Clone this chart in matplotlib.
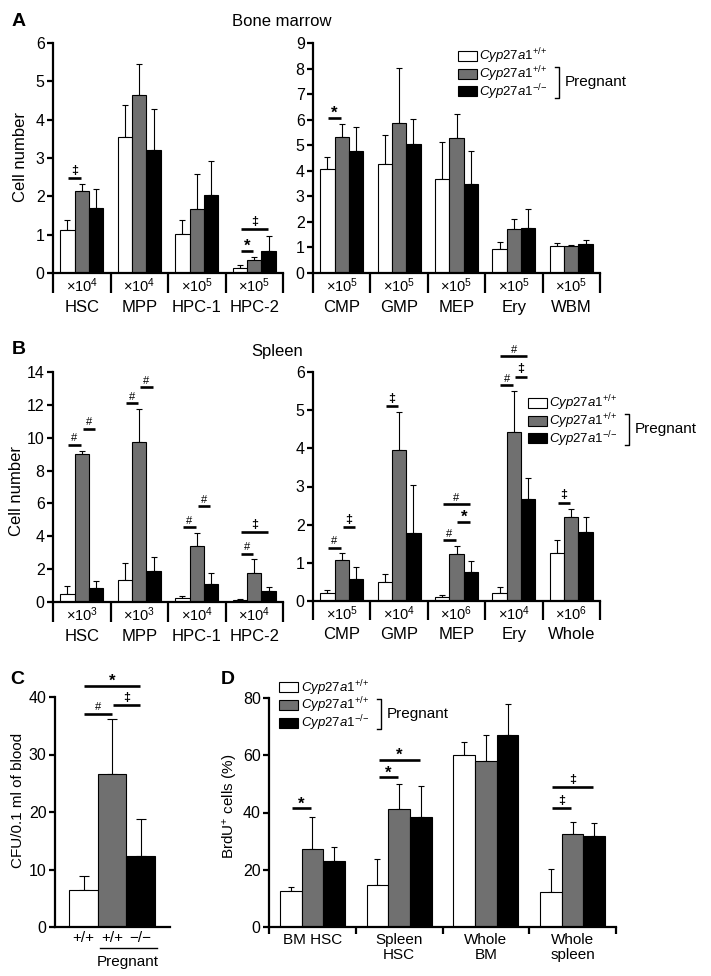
import numpy as np
import matplotlib
matplotlib.use('Agg')
import matplotlib.pyplot as plt
from matplotlib.patches import Rectangle
from matplotlib.lines import Line2D

plt.rcParams['font.family'] = ['Liberation Sans', 'DejaVu Sans']
plt.rcParams['mathtext.fontset'] = 'custom'
plt.rcParams['mathtext.rm'] = 'Liberation Sans'
plt.rcParams['mathtext.it'] = 'Liberation Sans:italic'
plt.rcParams['mathtext.bf'] = 'Liberation Sans:bold'

# ---- data (control, pregnant wt, pregnant ko) ----
# A: bone marrow
a1_names = ['HSC', 'MPP', 'HPC-1', 'HPC-2']
a1_scale = ['4', '4', '5', '5']
a1_ctrl = [1.11, 3.55, 1.03, 0.14]
a1_ctrl_err = [0.26, 0.84, 0.34, 0.06]
a1_wt = [2.14, 4.65, 1.66, 0.35]
a1_wt_err = [0.19, 0.79, 0.91, 0.08]
a1_ko = [1.70, 3.20, 2.03, 0.57]
a1_ko_err = [0.50, 1.09, 0.89, 0.39]
a1_sig = [(0, 0, 1, 2.48, '‡'), (3, 0, 1, 0.58, '*'), (3, 0, 2, 1.14, '‡')]

a2_names = ['CMP', 'GMP', 'MEP', 'Ery', 'WBM']
a2_scale = ['5', '5', '5', '5', '5']
a2_ctrl = [4.06, 4.27, 3.68, 0.95, 1.06]
a2_ctrl_err = [0.48, 1.14, 1.45, 0.26, 0.10]
a2_wt = [5.32, 5.88, 5.30, 1.72, 1.06]
a2_wt_err = [0.52, 2.13, 0.92, 0.41, 0.05]
a2_ko = [4.76, 5.03, 3.48, 1.76, 1.12]
a2_ko_err = [0.95, 1.01, 1.29, 0.74, 0.17]
a2_sig = [(0, 0, 1, 6.08, '*')]

# B: spleen
b1_names = ['HSC', 'MPP', 'HPC-1', 'HPC-2']
b1_scale = ['3', '3', '4', '4']
b1_ctrl = [0.51, 1.36, 0.26, 0.14]
b1_ctrl_err = [0.47, 1.02, 0.13, 0.06]
b1_wt = [9.02, 9.71, 3.40, 1.77]
b1_wt_err = [0.20, 2.04, 0.82, 0.86]
b1_ko = [0.86, 1.87, 1.12, 0.65]
b1_ko_err = [0.42, 0.88, 0.67, 0.27]
b1_sig = [(0, 0, 1, 9.57, '#'), (0, 1, 2, 10.55, '#'), (1, 0, 1, 12.1, '#'),
          (1, 1, 2, 13.07, '#'), (2, 0, 1, 4.54, '#'), (2, 1, 2, 5.82, '#'),
          (3, 0, 1, 2.95, '#'), (3, 0, 2, 4.26, '‡')]

b2_names = ['CMP', 'GMP', 'MEP', 'Ery', 'Whole']
b2_scale = ['5', '4', '6', '4', '6']
b2_ctrl = [0.22, 0.49, 0.10, 0.20, 1.27]
b2_ctrl_err = [0.08, 0.22, 0.06, 0.17, 0.34]
b2_wt = [1.07, 3.96, 1.23, 4.42, 2.20]
b2_wt_err = [0.19, 0.99, 0.22, 1.09, 0.21]
b2_ko = [0.58, 1.78, 0.76, 2.67, 1.80]
b2_ko_err = [0.30, 1.25, 0.28, 0.56, 0.40]
b2_sig = [(0, 0, 1, 1.40, '#'), (0, 1, 2, 1.94, '‡'), (1, 0, 1, 5.10, '‡'),
          (2, 0, 1, 1.60, '#'), (2, 1, 2, 2.08, '*'), (2, 0, 2, 2.53, '#'),
          (3, 0, 1, 5.66, '#'), (3, 1, 2, 5.88, '‡'), (3, 0, 2, 6.42, '#'),
          (4, 0, 1, 2.58, '‡')]

# C: CFU in blood
c_labels = ['+/+', '+/+', '\u2212/\u2212']
c_vals = [6.4, 26.6, 12.4]
c_err = [2.5, 9.5, 6.3]
c_sig = [(0, 1, 37.1, '#'), (1, 2, 38.55, '‡'), (0, 2, 42.0, '*')]

# D: BrdU+
d_names = ['BM HSC', 'Spleen\nHSC', 'Whole\nBM', 'Whole\nspleen']
d_ctrl = [12.7, 14.5, 60.0, 12.1]
d_ctrl_err = [1.2, 9.2, 4.7, 8.1]
d_wt = [27.2, 41.2, 58.1, 32.5]
d_wt_err = [11.1, 8.7, 8.8, 4.2]
d_ko = [23.2, 38.3, 67.1, 31.9]
d_ko_err = [4.9, 11.1, 10.9, 4.6]
d_sig = [(0, 0, 1, 41.5, '*'), (1, 0, 1, 52.3, '*'), (1, 0, 2, 58.5, '*'),
         (3, 0, 1, 41.5, '‡'), (3, 0, 2, 49.0, '‡')]

W, H = 711, 976
GRAY = '#707070'
colors = ['white', GRAY, 'black']
leg_labels = [r'$\mathit{Cyp27a1}^{{+}/{+}}$', r'$\mathit{Cyp27a1}^{{+}/{+}}$',
              r'$\mathit{Cyp27a1}^{{-}/{-}}$']
LW = 1.6

fig = plt.figure(figsize=(W / 100, H / 100), dpi=100)


def box(x0, y0, x1, y1):
    return [x0 / W, 1 - y1 / H, (x1 - x0) / W, (y1 - y0) / H]


def fx(x):
    return x / W


def fy(y):
    return 1 - y / H


def style(ax, ymax, ystep, fs=11.5):
    for s in ['top', 'right']:
        ax.spines[s].set_visible(False)
    for s in ['left', 'bottom']:
        ax.spines[s].set_linewidth(LW)
    ax.set_ylim(0, ymax)
    ticks = np.arange(0, ymax + 0.001, ystep)
    ax.set_yticks(ticks)
    ax.set_yticklabels([str(int(t)) for t in ticks])
    ax.tick_params(axis='y', length=4, width=LW, labelsize=fs, pad=2)


def sig_mark(ax, x1, x2, y, sym):
    ax.plot([x1, x2], [y, y], color='k', lw=1.9, clip_on=False, solid_capstyle='butt')
    if sym == '*':
        ax.annotate('*', xy=((x1 + x2) / 2, y), xytext=(0, -2.5), textcoords='offset points',
                    ha='center', va='bottom', fontsize=12, fontweight='bold', annotation_clip=False)
    elif sym == '#':
        ax.annotate(sym, xy=((x1 + x2) / 2, y), xytext=(0, 1.0), textcoords='offset points',
                    ha='center', va='bottom', fontsize=8, annotation_clip=False)
    else:
        ax.annotate(sym, xy=((x1 + x2) / 2, y), xytext=(0, 0.8), textcoords='offset points',
                    ha='center', va='bottom', fontsize=9, fontweight='bold', annotation_clip=False)


def bars3(ax, n, means, errs, sigs):
    x = np.arange(n)
    for k in range(3):
        xs = x + (k - 1) * 0.25
        ax.bar(xs, means[k], 0.25, color=colors[k], edgecolor='black', linewidth=0.8, zorder=2)
        ax.errorbar(xs, means[k], yerr=[np.zeros(n), errs[k]], fmt='none', ecolor='black',
                    elinewidth=0.8, capsize=2.3, capthick=0.8, zorder=1)
    ax.set_xlim(-0.5, n - 0.5)
    for g, a, b, y, sym in sigs:
        x1 = g + (a - 1) * 0.25 + 0.015
        x2 = g + (b - 1) * 0.25 - 0.015
        sig_mark(ax, x1, x2, y, sym)


def group_boxes(ax, names, scales):
    n = len(names)
    ax.set_xticks([])
    tr = ax.get_xaxis_transform()
    for b in np.arange(n + 1) - 0.5:
        ax.plot([b, b], [0, -0.085], transform=tr, color='k', lw=LW, clip_on=False,
                solid_capstyle='butt')
    for i in range(n):
        ax.text(i, -0.057, '×10$^{' + scales[i] + '}$', transform=tr, ha='center', va='center',
                fontsize=10.5)
        ax.text(i, -0.148, names[i], transform=tr, ha='center', va='center', fontsize=12)


def legend(x0, y0, fs=9.5):
    step = 17.8
    for k in range(3):
        yy = y0 + k * step
        fig.patches.append(Rectangle((fx(x0), fy(yy + 10)), 19 / W, 10 / H, transform=fig.transFigure,
                                     facecolor=colors[k], edgecolor='k', lw=0.8))
        fig.text(fx(x0 + 21.5), fy(yy + 5.5), leg_labels[k], fontsize=fs, ha='left', va='center')
    bx = x0 + 101.5
    ytop = y0 + step - 1.5
    ybot = y0 + 2 * step + 11.5
    fig.add_artist(Line2D([fx(bx - 4), fx(bx), fx(bx), fx(bx - 4)],
                          [fy(ytop), fy(ytop), fy(ybot), fy(ybot)], color='k', lw=1.0))
    fig.text(fx(bx + 5.5), fy((ytop + ybot) / 2), 'Pregnant', fontsize=fs + 1.5, ha='left', va='center')


# ---- panel A ----
axA1 = fig.add_axes(box(53, 43, 283, 273))
style(axA1, 6, 1)
bars3(axA1, 4, [a1_ctrl, a1_wt, a1_ko], [a1_ctrl_err, a1_wt_err, a1_ko_err], a1_sig)
group_boxes(axA1, a1_names, a1_scale)

axA2 = fig.add_axes(box(313, 43, 600, 273))
style(axA2, 9, 1)
bars3(axA2, 5, [a2_ctrl, a2_wt, a2_ko], [a2_ctrl_err, a2_wt_err, a2_ko_err], a2_sig)
group_boxes(axA2, a2_names, a2_scale)
legend(457.7, 50.7)

fig.text(fx(19), fy(21), 'A', fontsize=14, fontweight='bold', ha='center', va='center')
fig.text(fx(282), fy(22), 'Bone marrow', fontsize=12, ha='center', va='center')
fig.text(fx(21), fy(157), 'Cell number', fontsize=12, rotation=90, ha='center', va='center')

# ---- panel B ----
axB1 = fig.add_axes(box(53, 372, 283, 602))
style(axB1, 14, 2)
bars3(axB1, 4, [b1_ctrl, b1_wt, b1_ko], [b1_ctrl_err, b1_wt_err, b1_ko_err], b1_sig)
group_boxes(axB1, b1_names, b1_scale)

axB2 = fig.add_axes(box(313, 372, 600, 601))
style(axB2, 6, 1)
bars3(axB2, 5, [b2_ctrl, b2_wt, b2_ko], [b2_ctrl_err, b2_wt_err, b2_ko_err], b2_sig)
group_boxes(axB2, b2_names, b2_scale)
legend(527.7, 397.7)

fig.text(fx(19), fy(349), 'B', fontsize=14, fontweight='bold', ha='center', va='center')
fig.text(fx(277), fy(351), 'Spleen', fontsize=12, ha='center', va='center')
fig.text(fx(17), fy(491), 'Cell number', fontsize=12, rotation=90, ha='center', va='center')

# ---- panel C ----
axC = fig.add_axes(box(55, 697, 170, 927))
style(axC, 40, 10)
xc = np.arange(1, 4)
axC.bar(xc, c_vals, 1.0, color=colors, edgecolor='black', linewidth=0.8, zorder=2)
axC.errorbar(xc, c_vals, yerr=[np.zeros(3), c_err], fmt='none', ecolor='black',
             elinewidth=0.8, capsize=3.5, capthick=0.8, zorder=1)
axC.set_xlim(0, 4.03)
axC.set_xticks(xc)
axC.set_xticklabels(c_labels, fontsize=11)
axC.tick_params(axis='x', length=0, pad=3)
for a, b, y, sym in c_sig:
    sig_mark(axC, xc[a] + 0.02, xc[b] - 0.02, y, sym)
fig.add_artist(Line2D([fx(100), fx(157)], [fy(948), fy(948)], color='k', lw=1.0))
fig.text(fx(128), fy(962), 'Pregnant', fontsize=11, ha='center', va='center')
fig.text(fx(17.5), fy(679), 'C', fontsize=14, fontweight='bold', ha='center', va='center')
fig.text(fx(18), fy(800), 'CFU/0.1 ml of blood', fontsize=11, rotation=90, ha='center', va='center')

# ---- panel D ----
axD = fig.add_axes(box(269, 698, 616, 927))
style(axD, 80, 20)
bars3(axD, 4, [d_ctrl, d_wt, d_ko], [d_ctrl_err, d_wt_err, d_ko_err], d_sig)
axD.set_xticks(np.arange(5) - 0.5)
axD.set_xticklabels([])
axD.set_xticks(np.arange(4), minor=True)
axD.set_xticklabels(d_names, minor=True, fontsize=11, linespacing=1.15)
axD.tick_params(axis='x', which='major', length=5, width=LW, direction='out')
axD.tick_params(axis='x', which='minor', length=0, pad=4)
legend(279.3, 682.3)
fig.text(fx(227.5), fy(679), 'D', fontsize=14, fontweight='bold', ha='center', va='center')
fig.text(fx(231), fy(806), 'BrdU$^{+}$ cells (%)', fontsize=11, rotation=90, ha='center', va='center')

fig.savefig('out.png', dpi=100)
